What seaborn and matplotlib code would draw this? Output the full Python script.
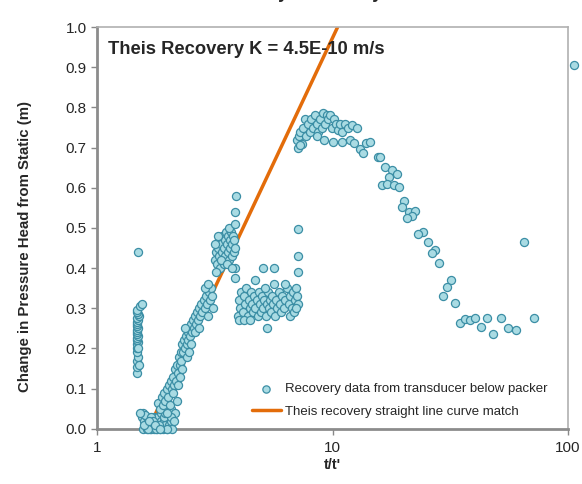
import matplotlib
matplotlib.use("Agg")
from matplotlib import pyplot as plt
import pandas as pd
import seaborn as sns

# recovery data (t/t', change in head m)
early_x = [1.47, 1.48, 1.47, 1.49, 1.48, 1.47, 1.48, 1.49, 1.47, 1.48, 1.49, 1.48, 1.47, 1.48,
           1.49, 1.48, 1.47, 1.48, 1.49, 1.48, 1.50, 1.49, 1.48, 1.47, 1.49, 1.50, 1.52, 1.55, 1.49]
early_y = [0.14, 0.155, 0.17, 0.18, 0.19, 0.20, 0.21, 0.215, 0.22, 0.225, 0.23, 0.235, 0.24, 0.245,
           0.25, 0.255, 0.26, 0.265, 0.27, 0.275, 0.28, 0.285, 0.29, 0.295, 0.20, 0.16, 0.305, 0.31, 0.44]

flat_x = [1.55, 1.57, 1.58, 1.60, 1.62, 1.63, 1.65, 1.67, 1.68, 1.70, 1.72, 1.74, 1.75, 1.77, 1.79,
          1.80, 1.82, 1.84, 1.86, 1.88, 1.90, 1.92, 1.95, 1.97, 2.00, 2.02, 2.05, 2.08, 1.56, 1.60,
          1.64, 1.69, 1.73, 1.78, 1.83, 1.87, 1.93, 1.98, 2.03, 1.58, 1.66, 1.76, 1.85, 1.95, 2.06, 1.52, 1.81]
flat_y = [0.03, 0.00, 0.02, 0.01, 0.00, 0.03, 0.01, 0.00, 0.02, 0.00, 0.01, 0.03, 0.00, 0.02, 0.00,
          0.01, 0.03, 0.00, 0.02, 0.01, 0.00, 0.02, 0.01, 0.00, 0.03, 0.01, 0.02, 0.00, 0.04, 0.035,
          0.00, 0.03, 0.02, 0.00, 0.01, 0.04, 0.03, 0.00, 0.04, 0.01, 0.02, 0.01, 0.00, 0.04, 0.05, 0.04, 0.065]

rise_x = [1.85, 1.88, 1.90, 1.92, 1.95, 1.97, 2.00, 2.02, 2.04, 2.05, 2.08, 2.10, 2.12, 2.14, 2.16,
          2.18, 2.20, 2.22, 2.24, 2.26, 2.28, 2.30, 2.32, 2.34, 2.36, 2.38, 2.40, 2.42, 2.44, 2.46,
          2.48, 2.50, 2.52, 2.55, 2.58, 2.60, 2.62, 2.65, 2.68, 2.70, 2.73, 2.76, 2.80, 2.83, 2.86,
          2.90, 2.94, 2.98, 3.02, 3.05, 3.08, 2.88, 2.10, 2.20, 2.30, 2.40, 2.50, 2.60, 2.35, 2.15,
          2.05, 2.12, 2.18, 1.98, 2.25, 2.45, 2.70, 2.95, 3.10, 2.96]
rise_y = [0.05, 0.08, 0.06, 0.09, 0.07, 0.10, 0.08, 0.11, 0.06, 0.12, 0.10, 0.13, 0.11, 0.15, 0.12,
          0.16, 0.14, 0.18, 0.16, 0.19, 0.17, 0.21, 0.19, 0.22, 0.20, 0.23, 0.21, 0.24, 0.22, 0.25,
          0.23, 0.26, 0.24, 0.27, 0.25, 0.28, 0.26, 0.29, 0.27, 0.30, 0.28, 0.31, 0.29, 0.32, 0.30,
          0.33, 0.31, 0.34, 0.32, 0.35, 0.33, 0.35, 0.09, 0.11, 0.15, 0.18, 0.21, 0.24, 0.25, 0.04,
          0.03, 0.02, 0.07, 0.04, 0.13, 0.19, 0.25, 0.28, 0.30, 0.36]

upper_x = [3.15, 3.20, 3.22, 3.25, 3.28, 3.30, 3.32, 3.35, 3.38, 3.40, 3.42, 3.45, 3.48, 3.50, 3.52,
           3.55, 3.58, 3.60, 3.62, 3.65, 3.68, 3.70, 3.72, 3.75, 3.78, 3.80, 3.83, 3.86, 3.20, 3.18,
           3.26, 3.45, 3.62, 3.88, 3.85, 3.86, 3.86, 3.86, 3.35, 3.55, 3.72]
upper_y = [0.42, 0.44, 0.41, 0.45, 0.43, 0.47, 0.40, 0.46, 0.44, 0.48, 0.42, 0.45, 0.47, 0.43, 0.49,
           0.46, 0.44, 0.48, 0.42, 0.47, 0.45, 0.49, 0.43, 0.46, 0.48, 0.44, 0.47, 0.45, 0.39, 0.46,
           0.48, 0.41, 0.50, 0.58, 0.54, 0.51, 0.40, 0.375, 0.42, 0.41, 0.40]

lower_x = [3.95, 4.00, 4.05, 4.10, 4.15, 4.20, 4.25, 4.30, 4.35, 4.40, 4.45, 4.50, 4.55, 4.60, 4.65,
           4.70, 4.75, 4.80, 4.85, 4.90, 4.95, 5.00, 5.05, 5.10, 5.20, 5.25, 5.30, 5.35, 5.40, 5.50,
           5.55, 5.60, 5.70, 5.75, 5.80, 5.90, 6.00, 6.05, 6.10, 6.20, 6.30, 6.40, 6.50, 6.60, 6.70,
           6.80, 6.90, 7.00, 7.05, 7.10, 4.00, 4.20, 4.45, 5.15, 5.65, 6.25, 6.60, 6.85, 7.00, 4.69,
           5.07, 5.65, 5.27, 7.10, 7.10, 7.13]
lower_y = [0.28, 0.32, 0.30, 0.34, 0.29, 0.33, 0.31, 0.35, 0.28, 0.32, 0.30, 0.34, 0.31, 0.29, 0.33,
           0.30, 0.32, 0.28, 0.34, 0.31, 0.29, 0.33, 0.30, 0.32, 0.28, 0.31, 0.34, 0.30, 0.32, 0.29,
           0.33, 0.31, 0.28, 0.32, 0.30, 0.34, 0.31, 0.29, 0.33, 0.30, 0.32, 0.35, 0.31, 0.33, 0.30,
           0.34, 0.32, 0.35, 0.33, 0.31, 0.27, 0.27, 0.27, 0.35, 0.36, 0.36, 0.28, 0.29, 0.30, 0.37,
           0.40, 0.40, 0.25, 0.43, 0.39, 0.497]

peak_x = [7.07, 7.15, 7.20, 7.28, 7.40, 7.50, 7.63, 7.70, 7.85, 8.00, 8.10, 8.25, 8.40, 8.55, 8.70,
          8.85, 9.00, 9.12, 9.30, 9.45, 9.60, 9.76, 9.90, 10.1, 10.3, 10.5, 10.8, 11.0, 11.3, 11.6,
          12.1, 12.7, 10.0, 11.0, 11.9, 12.3, 13.1, 13.9, 14.4, 13.5, 7.28, 8.60, 9.20, 15.6]
peak_y = [0.72, 0.70, 0.73, 0.74, 0.71, 0.75, 0.77, 0.73, 0.76, 0.74, 0.77, 0.75, 0.78, 0.76, 0.74,
          0.77, 0.75, 0.785, 0.76, 0.78, 0.77, 0.78, 0.75, 0.77, 0.76, 0.745, 0.76, 0.74, 0.76, 0.75,
          0.756, 0.749, 0.714, 0.714, 0.719, 0.711, 0.697, 0.711, 0.714, 0.687, 0.706, 0.73, 0.72, 0.676]

tail_x = [15.9, 16.7, 17.9, 17.4, 18.8, 16.2, 17.0, 18.2, 19.2, 20.1, 19.7, 21.1, 22.4, 21.8, 20.7,
          24.2, 23.1, 25.4, 27.2, 26.5, 28.3, 31.8, 30.6, 29.5, 33.1, 34.8, 36.5, 38.4, 40.3, 42.7,
          45.3, 48.0, 51.9, 55.6, 60.1, 65.0, 71.7, 106]
tail_y = [0.677, 0.652, 0.644, 0.627, 0.634, 0.607, 0.609, 0.607, 0.602, 0.567, 0.552, 0.54, 0.542, 0.53, 0.525,
          0.49, 0.485, 0.465, 0.445, 0.438, 0.413, 0.37, 0.353, 0.331, 0.313, 0.264, 0.274, 0.271, 0.276, 0.254,
          0.276, 0.236, 0.276, 0.251, 0.246, 0.465, 0.276, 0.905]

# Theis straight line match
fit_x = [1.65, 10.5]
fit_y = [0.0, 1.0]

data = pd.DataFrame({
    't': early_x + flat_x + rise_x + upper_x + lower_x + peak_x + tail_x,
    'dh': early_y + flat_y + rise_y + upper_y + lower_y + peak_y + tail_y,
})
fit = pd.DataFrame({'t': fit_x, 'dh': fit_y})

sns.set_style("white")
plt.rcParams['font.family'] = ['Liberation Sans', 'DejaVu Sans']

fig, ax = plt.subplots(figsize=(5.82, 4.84), dpi=100)
fig.subplots_adjust(left=0.167, right=0.976, top=0.944, bottom=0.114)

sns.scatterplot(data=data, x='t', y='dh', ax=ax, s=34, color='#a9dbe3',
                edgecolor='#3b8ea5', linewidth=0.9, clip_on=False, zorder=3,
                label='Recovery data from transducer below packer')
sns.lineplot(data=fit, x='t', y='dh', ax=ax, color='#e36c0a', linewidth=2.5,
             label='Theis recovery straight line curve match', zorder=2)

ax.set_xscale('log')
ax.set_xlim(1, 100)
ax.set_ylim(0, 1.0)
ax.set_xticks([1, 10, 100])
ax.set_xticklabels(['1', '10', '100'])
ax.set_yticks([i / 10 for i in range(11)])
ax.set_yticklabels([f'{i / 10:.1f}' for i in range(11)])
ax.minorticks_off()
ax.tick_params(axis='both', direction='out', length=4, width=1, color='#888888',
               labelsize=11, bottom=True, left=True)
ax.tick_params(axis='x', pad=5)

for side in ['top', 'right']:
    ax.spines[side].set_color('#b0b0b0')
    ax.spines[side].set_linewidth(1.2)
for side in ['left', 'bottom']:
    ax.spines[side].set_color('#8c8c8c')
    ax.spines[side].set_linewidth(2)

ax.set_xlabel("t/t'", fontsize=10.5, fontweight='bold', labelpad=2)
ax.set_ylabel('Change in Pressure Head from Static (m)', fontsize=10.8, fontweight='bold')
ax.yaxis.set_label_coords(-0.139, 0.455)

ax.text(0.022, 0.965, 'Theis Recovery K = 4.5E-10 m/s', transform=ax.transAxes,
        fontsize=13.2, fontweight='bold', va='top', ha='left')

# chart title sits above the image edge, only descenders show
fig.text(0.355, 1.004, 'Recovery Test Analysis', fontsize=13, fontweight='bold',
         ha='left', va='baseline')

ax.legend(loc='lower right', bbox_to_anchor=(0.975, 0.005), frameon=False, fontsize=9.5,
          handlelength=2.2, handletextpad=0.3, labelspacing=0.75, borderaxespad=0.3,
          markerscale=0.9)

fig.savefig('out.png', dpi=100)
